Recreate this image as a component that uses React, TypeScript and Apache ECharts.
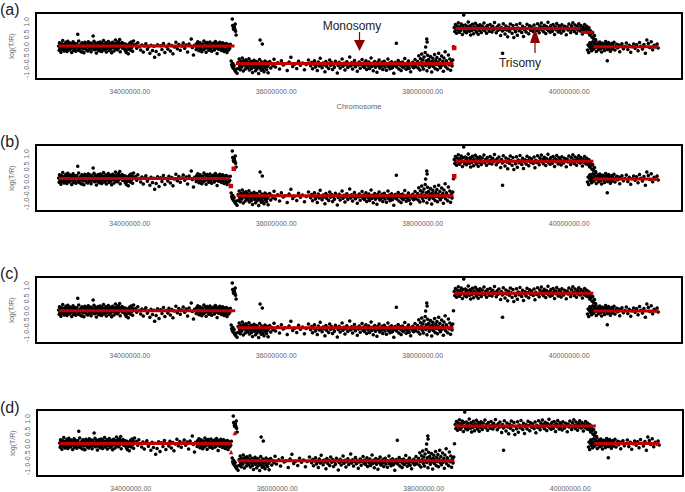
import React, { useEffect, useRef } from "react";
import * as echarts from "echarts";

// x in megabases, y = log(T/R)
const region1Points: number[][] = [
  [33.030,0.04],[33.036,-0.13],[33.041,0.17],[33.047,-0.05],[33.055,0.10],[33.060,-0.21],[33.066,0.02],[33.072,0.13],[33.079,-0.09],[33.085,0.26],
  [33.091,-0.03],[33.097,0.07],[33.104,-0.16],[33.110,0.12],[33.116,0.00],[33.123,-0.10],[33.129,0.19],[33.135,0.05],[33.142,-0.18],[33.148,0.08],
  [33.155,0.23],[33.161,-0.06],[33.168,0.12],[33.174,-0.12],[33.181,0.03],[33.187,0.16],[33.194,-0.07],[33.200,0.06],[33.207,-0.22],[33.213,0.10],
  [33.220,-0.01],[33.226,0.21],[33.233,-0.14],[33.239,0.05],[33.246,0.15],[33.252,-0.06],[33.259,0.09],[33.265,-0.17],[33.272,0.02],[33.278,0.13],
  [33.290,0.51],[33.296,-0.10],[33.303,0.24],[33.309,0.00],[33.316,-0.15],[33.322,0.07],[33.329,-0.03],[33.335,0.11],[33.342,-0.20],[33.348,0.17],
  [33.355,0.03],[33.361,-0.08],[33.368,0.12],[33.374,-0.23],[33.381,0.06],[33.387,0.19],[33.394,-0.05],[33.400,0.08],[33.407,-0.12],[33.413,0.14],
  [33.420,0.01],[33.426,-0.16],[33.433,0.21],[33.439,0.04],[33.446,-0.09],[33.452,0.10],[33.459,-0.02],[33.465,0.16],[33.472,-0.19],[33.478,0.06],
  [33.485,0.13],[33.491,-0.07],[33.500,0.44],[33.506,0.02],[33.512,0.23],[33.519,-0.11],[33.525,0.08],[33.532,-0.04],[33.538,0.15],[33.545,-0.24],
  [33.551,0.05],[33.558,0.12],[33.564,-0.10],[33.571,0.18],[33.577,0.00],[33.584,-0.15],[33.590,0.09],[33.597,0.20],[33.603,-0.06],[33.610,0.03],
  [33.616,-0.18],[33.623,0.14],[33.629,0.07],[33.636,-0.03],[33.642,0.26],[33.649,-0.12],[33.655,0.10],[33.662,0.02],[33.668,-0.08],[33.675,0.17],
  [33.681,-0.20],[33.688,0.05],[33.694,0.12],[33.701,-0.05],[33.707,0.22],[33.714,0.01],[33.720,-0.14],[33.727,0.08],[33.733,0.15],[33.740,-0.09],
  [33.746,0.04],[33.753,-0.23],[33.759,0.11],[33.766,0.19],[33.772,-0.02],[33.779,0.07],[33.785,-0.16],[33.792,0.13],[33.798,0.00],[33.805,0.28],
  [33.811,-0.07],[33.818,0.09],[33.824,0.16],[33.831,-0.11],[33.837,0.03],[33.844,0.21],[33.850,-0.04],[33.857,0.12],[33.863,0.30],[33.870,-0.19],
  [33.876,0.06],[33.883,0.14],[33.889,0.02],[33.896,0.18],[33.902,-0.05],[33.909,0.10],[33.915,0.00],[33.922,0.13],[33.928,-0.08],[33.935,0.04],
  [33.941,-0.15],[33.948,0.11],[33.954,-0.22],[33.961,0.07],[33.967,-0.10],[33.974,0.02],[33.980,-0.27],[33.987,0.09],[33.993,-0.06],[34.000,0.16],
  [34.006,-0.12],[34.013,0.05],[34.019,0.20],[34.026,-0.03],[34.032,0.11],[34.039,-0.17],[34.045,0.08],[34.052,0.24],
  [34.080,0.10],[34.095,-0.05],[34.110,0.17],[34.130,0.02],[34.150,-0.12],[34.165,0.08],[34.185,-0.20],[34.200,0.04],[34.220,0.13],[34.240,-0.09],
  [34.255,0.00],[34.275,-0.25],[34.290,0.07],[34.310,-0.14],[34.330,0.03],[34.340,-0.41],[34.360,-0.18],[34.380,0.09],[34.400,-0.30],[34.420,0.05],
  [34.440,-0.10],[34.460,0.14],[34.480,-0.22],[34.500,0.02],[34.520,-0.08],[34.535,0.11],[34.555,-0.16],[34.575,0.06],[34.590,-0.27],[34.610,0.00],
  [34.630,0.19],[34.650,-0.07],[34.670,0.10],[34.690,-0.13],[34.710,0.04],[34.730,0.16],[34.750,-0.05],[34.770,0.08],[34.790,-0.20],[34.810,0.12],
  [34.840,0.32],[34.855,-0.02],[34.870,-0.32],[34.885,0.07],
  [34.900,0.05],[34.907,-0.10],[34.915,0.14],[34.922,-0.03],[34.930,0.21],[34.938,0.00],[34.945,-0.15],[34.953,0.09],[34.960,0.17],[34.968,-0.07],
  [34.975,0.03],[34.983,-0.19],[34.990,0.12],[34.998,0.06],[35.005,-0.11],[35.013,0.24],[35.020,0.01],[35.028,-0.06],[35.035,0.15],[35.043,-0.21],
  [35.050,0.08],[35.058,0.18],[35.065,-0.04],[35.073,0.10],[35.080,-0.13],[35.088,0.02],[35.095,0.20],[35.103,-0.08],[35.110,0.07],[35.118,-0.17],
  [35.125,0.13],[35.133,0.04],[35.140,-0.01],[35.148,0.16],[35.155,-0.12],[35.163,0.09],[35.170,0.22],[35.178,-0.05],[35.185,0.11],[35.193,-0.26],
  [35.200,0.03],[35.208,0.15],[35.215,-0.09],[35.223,0.06],[35.230,0.19],[35.238,-0.03],[35.245,0.10],[35.253,-0.14],[35.260,0.01],[35.268,0.17],
  [35.275,-0.07],[35.283,0.08],[35.290,-0.18],[35.298,0.12],[35.305,0.04],[35.313,-0.10],[35.320,0.14],[35.328,-0.22],[35.335,0.06],[35.343,0.00],
  [35.350,-0.12],[35.358,0.09],[35.365,-0.05],[35.373,0.11],
];

const breakpointPoints: number[][] = [
  [35.400,1.12],[35.405,0.86],[35.415,0.75],[35.420,0.70],[35.428,0.81],[35.435,0.72],[35.440,0.92],[35.445,0.63],[35.452,0.48],
  [35.385,-0.56],[35.392,-0.70],[35.400,-0.78],[35.408,-0.66],[35.415,-0.85],[35.425,-0.74],[35.432,-0.92],[35.445,-0.98],[35.455,-0.88],[35.465,-1.05],
];

const monosomyPoints: number[][] = [
  [35.480,-0.62],[35.487,-0.85],[35.494,-0.48],[35.501,-0.74],[35.508,-0.91],[35.515,-0.58],[35.522,-0.69],[35.529,-0.80],[35.536,-0.44],[35.543,-0.66],
  [35.550,-0.96],[35.557,-0.55],[35.564,-0.72],[35.571,-0.63],[35.578,-0.88],[35.585,-0.51],[35.592,-0.77],[35.599,-0.68],[35.606,-0.59],[35.613,-0.83],
  [35.620,-0.70],[35.627,-0.47],[35.634,-0.92],[35.641,-0.64],[35.648,-0.76],[35.655,-0.57],[35.662,-0.86],[35.669,-0.69],[35.676,-1.02],[35.683,-0.61],
  [35.690,-0.74],[35.697,-0.53],[35.704,-0.81],[35.711,-0.66],[35.718,-0.95],[35.725,-0.72],[35.732,-0.58],[35.739,-0.87],[35.746,-0.63],[35.753,-0.78],
  [35.760,-1.06],[35.767,-0.69],[35.774,-0.50],[35.780,0.28],[35.781,-0.84],[35.788,-0.71],[35.795,-0.93],[35.802,-0.60],[35.810,0.12],[35.812,-0.76],[35.819,-0.88],
  [35.826,-0.65],[35.833,-0.99],[35.840,-0.73],[35.847,-0.56],[35.854,-0.82],[35.861,-0.68],[35.868,-0.90],[35.875,-0.62],[35.882,-0.77],[35.889,-1.03],
  [35.896,-0.70],[35.910,-0.58],[35.925,-0.84],[35.940,-0.66],[35.955,-0.75],[35.970,-0.49],[35.990,-0.80],
  [36.020,-0.63],[36.045,-0.88],[36.070,-0.55],[36.095,-0.72],[36.120,-0.67],[36.150,-0.94],[36.175,-0.60],[36.200,-0.41],[36.225,-0.78],[36.250,-0.69],
  [36.280,-0.86],[36.305,-0.57],[36.330,-0.73],[36.360,-0.64],[36.385,-0.91],[36.410,-0.70],[36.440,-0.52],
  [36.470,-0.75],[36.483,-0.62],[36.496,-0.87],[36.509,-0.68],[36.522,-0.55],[36.535,-0.80],[36.548,-0.71],[36.561,-0.94],[36.574,-0.60],[36.587,-0.76],
  [36.600,-0.45],[36.613,-0.69],[36.626,-0.83],[36.639,-0.64],[36.652,-0.72],[36.665,-0.99],[36.678,-0.58],[36.691,-0.78],[36.704,-0.66],[36.717,-0.86],
  [36.730,-0.52],[36.743,-0.73],[36.756,-0.62],[36.769,-0.90],[36.782,-0.70],[36.795,-0.81],[36.808,-0.57],[36.821,-0.67],[36.834,-1.04],[36.847,-0.74],
  [36.860,-0.61],[36.873,-0.84],[36.886,-0.69],[36.899,-0.48],[36.912,-0.77],[36.925,-0.65],[36.938,-0.92],[36.951,-0.71],[36.964,-0.59],[36.977,-0.82],
  [36.990,-0.68],[37.003,-0.40],[37.016,-0.76],[37.029,-0.63],[37.042,-0.88],[37.055,-0.70],[37.068,-0.54],[37.081,-0.79],[37.094,-0.66],[37.107,-0.97],
  [37.120,-0.72],[37.133,-0.60],[37.146,-0.85],[37.159,-0.69],[37.172,-0.50],[37.185,-0.77],
  [37.195,-0.64],[37.205,-0.82],[37.215,-0.71],[37.225,-0.55],[37.235,-0.90],[37.245,-0.67],[37.255,-0.76],[37.265,-0.60],[37.275,-0.86],[37.285,-0.70],
  [37.295,-0.44],[37.305,-0.78],[37.315,-0.65],[37.325,-0.95],[37.335,-0.73],[37.345,-0.58],[37.355,-0.81],[37.365,-0.68],[37.375,-1.01],[37.385,-0.62],
  [37.395,-0.75],[37.405,-0.52],[37.415,-0.84],[37.425,-0.69],[37.435,-0.77],[37.445,-0.61],[37.455,-0.90],[37.465,-0.72],[37.475,-0.57],[37.485,-0.80],
  [37.495,-0.66],[37.505,-0.93],[37.515,-0.70],[37.525,-0.48],[37.535,-0.79],[37.545,-0.64],[37.555,-0.87],[37.565,-0.73],[37.575,-0.59],[37.585,-0.83],
  [37.595,-0.68],[37.605,-1.05],[37.615,-0.75],[37.625,-0.62],[37.640,0.15],[37.645,-0.80],[37.655,-0.69],[37.665,-0.54],[37.675,-0.88],[37.685,-0.71],
  [37.695,-0.63],[37.705,-0.94],[37.715,-0.77],[37.725,-0.60],[37.735,-0.82],[37.745,-0.67],[37.755,-0.46],[37.765,-0.74],[37.775,-0.89],[37.785,-0.65],
  [37.795,-0.78],[37.805,-0.56],[37.815,-0.85],[37.825,-0.70],[37.835,-0.99],[37.845,-0.66],[37.855,-0.76],[37.865,-0.61],[37.875,-0.83],[37.885,-0.72],
  [37.895,-0.50],[37.905,-0.79],[37.915,-0.68],
  [37.930,-0.58],[37.938,-0.84],[37.946,-0.35],[37.954,-0.70],[37.962,-0.92],[37.970,-0.47],[37.978,-0.63],[37.986,-0.28],[37.994,-0.77],[38.002,-0.52],
  [38.010,-0.88],[38.018,-0.40],[38.026,-0.66],[38.034,-0.22],[38.040,0.00],[38.042,-0.74],[38.050,-0.55],[38.055,0.32],[38.058,-0.95],[38.060,0.20],[38.066,-0.33],[38.074,-0.69],[38.082,-0.49],
  [38.090,-0.81],[38.098,-0.60],[38.106,-0.38],[38.114,-0.72],[38.122,-1.00],[38.130,-0.57],[38.138,-0.45],[38.146,-0.78],[38.154,-0.64],[38.162,-0.30],
  [38.170,-0.86],[38.178,-0.53],[38.186,-0.70],[38.194,-0.42],[38.202,-0.91],[38.210,-0.61],[38.218,-0.25],[38.226,-0.75],[38.234,-0.50],[38.242,-0.83],
  [38.250,-0.66],[38.258,-0.36],[38.266,-0.73],[38.274,-0.58],[38.282,-0.97],[38.290,-0.44],[38.298,-0.68],[38.306,-0.19],[38.314,-0.79],[38.322,-0.55],
  [38.330,-0.62],[38.340,-0.87],[38.350,-0.32],[38.360,-0.71],[38.370,-0.48],[38.380,-0.93],[38.390,-0.60],[38.400,-0.76],[38.410,-0.52],[38.420,0.01],
];

const trisomyPoints: number[][] = [
  [38.430,0.78],[38.438,0.62],[38.446,0.90],[38.454,0.71],[38.462,0.55],[38.470,0.84],[38.478,0.68],[38.486,0.97],[38.494,0.74],[38.502,0.59],
  [38.510,0.81],[38.518,0.66],[38.526,0.92],[38.534,0.73],[38.542,0.50],[38.550,0.86],[38.560,1.28],[38.566,0.70],[38.574,0.61],[38.582,0.88],[38.590,0.76],
  [38.598,0.57],[38.606,0.83],[38.614,0.69],[38.622,1.00],[38.630,0.72],[38.638,0.63],[38.646,0.85],[38.654,0.48],[38.662,0.77],[38.670,0.66],
  [38.678,0.91],[38.686,0.74],[38.694,0.53],[38.702,0.80],[38.710,0.69],[38.718,0.95],[38.726,0.71],[38.734,0.60],[38.742,0.87],[38.750,0.75],
  [38.758,0.51],[38.766,0.82],[38.774,0.67],[38.782,0.89],[38.790,0.73],[38.800,0.58],[38.812,0.84],[38.824,0.70],[38.836,0.96],[38.848,0.65],
  [38.860,0.79],[38.872,0.55],[38.884,0.86],[38.896,0.72],[38.908,0.63],[38.920,0.90],[38.932,0.76],[38.944,0.60],[38.956,0.83],[38.968,0.69],
  [38.980,0.98],[38.992,0.74],[39.004,0.57],[39.016,0.81],[39.028,0.67],[39.040,0.88],[39.052,0.71],[39.064,0.46],[39.076,0.78],[39.090,-0.25],[39.088,0.64],
  [39.100,0.93],[39.112,0.70],[39.124,0.52],[39.136,0.84],[39.148,0.68],[39.160,0.41],[39.172,0.79],[39.184,0.63],[39.196,0.92],[39.208,0.73],
  [39.220,0.55],[39.232,0.86],[39.244,0.38],[39.256,0.70],[39.268,0.61],[39.280,0.89],[39.292,0.47],[39.304,0.76],[39.316,0.65],[39.328,0.94],
  [39.340,0.72],[39.352,0.58],[39.364,0.83],[39.376,0.42],[39.388,0.69],[39.400,0.77],[39.412,0.60],[39.424,0.91],[39.436,0.74],[39.448,0.53],
  [39.460,0.85],[39.472,0.67],[39.484,0.80],[39.496,0.71],[39.508,0.62],[39.520,0.88],[39.532,0.45],[39.544,0.75],[39.556,0.66],[39.568,0.93],
  [39.580,0.70],[39.590,0.57],[39.600,0.84],[39.610,0.73],[39.620,0.96],[39.630,0.68],[39.640,0.79],[39.650,0.61],[39.660,0.87],[39.670,0.74],
  [39.680,0.54],[39.690,0.82],[39.700,0.70],[39.710,0.99],[39.720,0.65],[39.730,0.77],[39.740,0.59],[39.750,0.86],[39.760,0.72],[39.770,0.63],
  [39.780,0.90],[39.790,0.76],[39.800,0.50],[39.810,0.81],[39.820,0.69],[39.830,0.94],[39.840,0.73],[39.850,0.60],[39.860,0.85],[39.870,0.67],
  [39.880,0.78],[39.890,0.56],[39.900,0.89],[39.912,0.71],[39.924,0.64],[39.936,0.83],[39.948,0.74],[39.960,0.49],[39.972,0.80],[39.984,0.68],
  [39.996,0.92],[40.008,0.72],[40.020,0.58],[40.030,0.85],[40.040,0.70],[40.050,0.97],[40.060,0.75],[40.070,0.62],[40.080,0.88],[40.090,0.73],
  [40.100,0.55],[40.110,0.82],[40.120,0.68],[40.130,0.93],[40.140,0.76],[40.150,0.64],[40.160,0.86],[40.170,0.71],[40.180,0.52],[40.190,0.79],
  [40.200,0.66],[40.210,0.90],[40.220,0.74],[40.230,0.60],[40.240,0.83],[40.250,0.69],[40.260,0.57],[40.270,0.77],[40.280,0.48],[40.290,0.65],
  [40.300,0.54],[40.310,0.40],[40.320,0.58],[40.330,0.35],[40.345,0.46],[40.360,0.30],
];

const region5Points: number[][] = [
  [40.250,-0.12],[40.258,0.08],[40.266,-0.22],[40.274,0.03],[40.282,0.17],[40.290,-0.06],[40.298,0.11],[40.306,-0.15],[40.314,0.02],[40.322,0.21],
  [40.330,-0.09],[40.338,0.06],[40.346,0.14],[40.354,-0.03],[40.362,0.25],[40.370,-0.18],[40.378,0.09],[40.386,0.00],[40.394,0.16],[40.402,-0.11],
  [40.410,0.05],[40.418,0.20],[40.426,-0.07],[40.434,0.12],[40.442,-0.20],[40.450,0.03],[40.458,0.15],[40.466,-0.04],[40.474,0.10],[40.482,-0.14],
  [40.490,0.07],[40.498,0.22],[40.506,-0.01],[40.514,0.13],[40.520,-0.55],[40.522,-0.10],[40.530,0.04],[40.538,0.18],[40.546,-0.06],[40.554,0.09],[40.562,-0.17],
  [40.570,0.02],[40.580,0.14],[40.590,-0.08],[40.600,0.06],[40.612,0.19],[40.625,-0.12],[40.638,0.04],[40.650,0.11],[40.663,-0.03],[40.676,0.08],
  [40.690,-0.19],[40.705,0.05],[40.720,0.13],[40.740,-0.07],[40.760,0.02],[40.780,0.16],[40.800,-0.10],[40.820,0.07],[40.840,-0.21],[40.860,0.01],
  [40.880,0.12],[40.900,-0.05],[40.920,0.09],[40.940,-0.15],[40.960,0.18],[40.980,0.03],[41.000,-0.08],[41.020,0.10],[41.040,-0.25],[41.060,0.28],
  [41.080,0.14],[41.100,-0.02],[41.120,0.21],[41.140,-0.11],[41.160,0.07],[41.180,0.00],[41.200,0.12],[41.215,-0.04],
];

// segments: [start, end, level]
const segmentsA: number[][] = [[33.03,35.43,0.04],[35.45,38.42,-0.66],[38.45,40.15,0.74],[40.16,40.33,0.59],[40.33,41.22,0.01]];
const segmentsB: number[][] = [[33.03,35.37,0.02],[35.46,38.42,-0.67],[38.45,40.33,0.71],[40.33,41.22,0.0]];
const segmentsC: number[][] = [[33.03,35.44,0.01],[35.47,38.42,-0.67],[38.43,40.33,0.71],[40.33,41.22,0.0]];
const segmentsD: number[][] = [[33.03,35.38,0.02],[35.46,38.42,-0.67],[38.43,40.35,0.72],[40.33,41.22,0.02]];

// single-probe segments: [position, level]
const markersA: number[][] = [[38.43,-0.04]];
const markersB: number[][] = [[35.38,-0.28],[35.42,0.41],[38.43,0.11]];
const markersC: number[][] = [];
const markersD: number[][] = [[35.37,-0.32],[35.42,0.44]];

const panelLabels = ["(a)", "(b)", "(c)", "(d)"];
const xTicks = [34, 36, 38, 40];
const yTicks = [-1, -0.5, 0, 0.5, 1];

const allPoints = [...region1Points, ...breakpointPoints, ...monosomyPoints, ...trisomyPoints, ...region5Points];

export default function App() {
  const ref = useRef<HTMLDivElement>(null);
  useEffect(() => {
    if (!ref.current) return;
    const chart = echarts.init(ref.current, undefined, { renderer: "svg" });
    const layout = [
      { top: 13, left: 35, width: 647, labelTop: 1 },
      { top: 145, left: 35, width: 647, labelTop: 133 },
      { top: 277, left: 35, width: 647, labelTop: 265 },
      { top: 410, left: 37, width: 646, labelTop: 399 },
    ];
    const segs = [segmentsA, segmentsB, segmentsC, segmentsD];
    const marks = [markersA, markersB, markersC, markersD];
    const font = "Liberation Sans, Arial, sans-serif";
    const labelColor = "#666666";
    const grids: any[] = [];
    const xAxes: any[] = [];
    const yAxes: any[] = [];
    const series: any[] = [];
    const graphics: any[] = [];
    layout.forEach((l, i) => {
      grids.push({
        left: l.left, top: l.top, width: l.width, height: 66,
        show: true, borderColor: "#000", borderWidth: 2, backgroundColor: "#fff",
      });
      xAxes.push({
        type: "value", gridIndex: i, min: 32.72, max: 41.54,
        splitLine: { show: false }, axisLine: { show: false }, axisTick: { show: false },
        axisLabel: {
          customValues: xTicks,
          formatter: (v: number) => (v * 1000000).toFixed(2),
          fontSize: 7, color: labelColor, margin: 9, fontFamily: font,
        },
        name: i === 0 ? "Chromosome" : "",
        nameLocation: "middle", nameGap: 23,
        nameTextStyle: { fontSize: 7.5, color: labelColor, fontFamily: font },
      });
      yAxes.push({
        type: "value", gridIndex: i, min: -1.28, max: 1.36,
        splitLine: { show: false }, axisLine: { show: false }, axisTick: { show: false },
        axisLabel: {
          customValues: yTicks,
          formatter: (v: number) => v.toFixed(1),
          rotate: 90, fontSize: 7, color: labelColor, margin: 6, fontFamily: font,
        },
        name: "log(T/R)", nameLocation: "middle", nameGap: 21, nameRotate: 90,
        nameTextStyle: { fontSize: 7, color: labelColor, fontFamily: font },
      });
      series.push({
        type: "scatter", xAxisIndex: i, yAxisIndex: i, data: allPoints,
        symbolSize: 3.6, itemStyle: { color: "#000", opacity: 1 }, silent: true, z: 2,
      });
      segs[i].forEach((s) => {
        series.push({
          type: "line", xAxisIndex: i, yAxisIndex: i,
          data: [[s[0], s[2]], [s[1], s[2]]],
          symbol: "none", lineStyle: { color: "#c00000", width: 3.2 }, silent: true, z: 3,
        });
      });
      if (marks[i].length) {
        series.push({
          type: "scatter", xAxisIndex: i, yAxisIndex: i, data: marks[i],
          symbol: i === 3 ? "triangle" : "rect", symbolSize: 4.5,
          itemStyle: { color: "#d00000", opacity: 1 }, silent: true, z: 4,
        });
      }
      graphics.push({
        type: "text", left: 0, top: l.labelTop,
        style: { text: panelLabels[i], fontSize: 16, fill: "#222", fontFamily: font },
      });
    });
    const arrowColor = "#8b0000";
    graphics.push(
      { type: "text", x: 352, y: 26, style: { text: "Monosomy", fontSize: 12, fill: "#222", fontFamily: font, textAlign: "center", textVerticalAlign: "middle" }, z: 10 },
      { type: "line", shape: { x1: 359.5, y1: 32, x2: 359.5, y2: 41 }, style: { stroke: arrowColor, lineWidth: 1.2 }, z: 10 },
      { type: "polygon", shape: { points: [[354, 40], [365, 40], [359.5, 51]] }, style: { fill: arrowColor }, z: 10 },
      { type: "text", x: 520, y: 63, style: { text: "Trisomy", fontSize: 12, fill: "#222", fontFamily: font, textAlign: "center", textVerticalAlign: "middle" }, z: 10 },
      { type: "line", shape: { x1: 535, y1: 42, x2: 535, y2: 53 }, style: { stroke: arrowColor, lineWidth: 1.2 }, z: 10 },
      { type: "polygon", shape: { points: [[530, 43], [540, 43], [535, 28]] }, style: { fill: arrowColor }, z: 10 },
    );
    chart.setOption({
      animation: false,
      backgroundColor: "#fff",
      grid: grids, xAxis: xAxes, yAxis: yAxes, series, graphic: graphics,
    });
    return () => chart.dispose();
  }, []);
  return <div ref={ref} style={{ position: "fixed", left: 0, top: 0, width: 685, height: 492 }} />;
}
